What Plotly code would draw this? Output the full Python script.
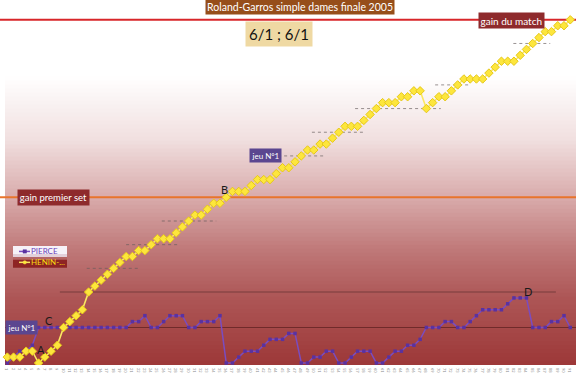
import plotly.graph_objects as go

# ---------------- data ----------------
points = list(range(1, 92))
tick_labels = [str(i) for i in points]

henin = [1, 1, 1, 2, 2, 0, 1, 2, 3, 6,
         7, 8, 9, 12, 13, 14, 15, 16, 17, 18,
         18, 19, 19, 20, 21, 21, 21, 22, 23, 24,
         25, 25, 26, 27, 27, 28, 29, 29, 29, 30,
         31, 31, 31, 32, 33, 33, 34, 35, 36, 36,
         37, 37, 38, 39, 40, 40, 40, 41, 42, 43,
         44, 44, 44, 45, 45, 46, 46, 43, 44, 45,
         45, 46, 47, 48, 48, 48, 48, 49, 50, 51,
         51, 51, 52, 53, 54, 55, 56, 56, 57, 57,
         58]

pierce = [0, 1, 2, 2, 3, 6, 6, 6, 6, 6,
          6, 6, 6, 6, 6, 6, 6, 6, 6, 6,
          7, 7, 8, 6, 6, 7, 8, 8, 8, 6,
          6, 7, 7, 7, 8, 0, 0, 1, 2, 2,
          2, 3, 4, 4, 4, 5, 5, 0, 0, 1,
          1, 2, 2, 0, 0, 1, 2, 2, 2, 0,
          0, 1, 2, 2, 3, 3, 4, 6, 6, 6,
          7, 7, 6, 6, 7, 8, 9, 9, 9, 9,
          10, 11, 11, 11, 6, 6, 6, 7, 7, 8,
          6]

series_names = ["PIERCE", "HENIN-..."]

match_level = 58
set_level = 28
pierce_game1_level = 6
henin_game_level = 12
game_levels = [16, 20, 24, 35, 39, 43, 47, 54]
game_starts = [13.7, 20.0, 25.7, 44.3, 49.7, 56.6, 69.4, 81.9]
game_ends = [22.2, 28.6, 34.4, 51.5, 58.2, 70.3, 75.1, 87.8]

# ---------------- geometry helpers ----------------
W, H = 576, 373
PLOT_H = 368  # plot area height in px (bottom margin holds tick labels)
X_RANGE = [1 - 7.3 / 6.255, 1 + (576 - 7.3) / 6.255]
Y_RANGE = [-(PLOT_H - 366) / 5.966, 366 / 5.966]


def px(x):
    return x / W


def py(y):
    return (PLOT_H - y) / PLOT_H


FONT = "Lato, 'Open Sans', sans-serif"
PURPLE_LINE = "#7a4cc0"
PURPLE_MK = "#5a32a0"
YEL_LINE = "#fbe862"
YEL_MK = "#fde63c"
YEL_EDGE = "#e6c81a"

fig = go.Figure()

# gradient background
stops = [(77, (255, 255, 255)), (140, (241, 224, 224)), (200, (216, 170, 170)),
         (250, (192, 122, 122)), (300, (173, 86, 86)), (368, (157, 56, 56))]
shapes = []
n = 72
y_top, y_bot = 77, 368
for i in range(n):
    y0 = y_top + (y_bot - y_top) * i / n
    y1 = y_top + (y_bot - y_top) * (i + 1) / n
    ym = (y0 + y1) / 2
    for j in range(len(stops) - 1):
        if stops[j][0] <= ym <= stops[j + 1][0]:
            t = (ym - stops[j][0]) / (stops[j + 1][0] - stops[j][0])
            c = [round(stops[j][1][k] + t * (stops[j + 1][1][k] - stops[j][1][k])) for k in range(3)]
            break
    shapes.append(dict(type="rect", xref="paper", yref="paper", x0=px(5), x1=1,
                       y0=py(min(y1 + 1.5, y_bot)), y1=py(y0), line=dict(width=0),
                       fillcolor=f"rgb({c[0]},{c[1]},{c[2]})", layer="below"))

# reference lines
shapes.append(dict(type="line", xref="paper", yref="y", x0=px(5), x1=1,
                   y0=pierce_game1_level, y1=pierce_game1_level,
                   line=dict(color="rgba(90,30,30,0.7)", width=1), layer="below"))
shapes.append(dict(type="line", xref="x", yref="y", x0=9.4, x1=88.7,
                   y0=henin_game_level, y1=henin_game_level,
                   line=dict(color="rgba(80,40,40,0.6)", width=1), layer="below"))
for lv, s, e in zip(game_levels, game_starts, game_ends):
    shapes.append(dict(type="line", xref="x", yref="y", x0=s, x1=e, y0=lv, y1=lv,
                       line=dict(color="rgba(100,90,90,0.65)", width=1, dash="dot"),
                       layer="below"))
shapes.append(dict(type="line", xref="paper", yref="y", x0=0, x1=1,
                   y0=set_level, y1=set_level,
                   line=dict(color="#e8742c", width=2), layer="below"))
shapes.append(dict(type="line", xref="paper", yref="y", x0=0, x1=1,
                   y0=match_level, y1=match_level,
                   line=dict(color="#d8262a", width=2), layer="below"))

# legend box (gradient white -> dark red), drawn manually
leg_bands = [(248, 256.5, "#f6f2f8"), (256, 259.5, "#e2d0da"), (259, 262.5, "#b46464"),
             (262, 270, "#8e2424")]
for y0, y1, col in leg_bands:
    shapes.append(dict(type="rect", xref="paper", yref="paper", x0=px(13), x1=px(67),
                       y0=py(y1), y1=py(y0), line=dict(width=0), fillcolor=col,
                       layer="above"))
# legend symbols
for row_y, lc, mc, sym in [(253.5, PURPLE_LINE, PURPLE_MK, "rect"), (264.5, YEL_LINE, YEL_MK, "circle")]:
    shapes.append(dict(type="line", xref="paper", yref="paper", x0=px(19), x1=px(30),
                       y0=py(row_y), y1=py(row_y), line=dict(color=lc, width=1.5),
                       layer="above"))
    shapes.append(dict(type=sym, xref="paper", yref="paper", x0=px(23), x1=px(26.5),
                       y0=py(row_y + 1.7), y1=py(row_y - 1.7),
                       line=dict(color=mc, width=0.5), fillcolor=mc, layer="above"))

# traces
fig.add_trace(go.Scatter(
    x=points, y=pierce, mode="lines+markers", name=series_names[0], showlegend=False,
    line=dict(color=PURPLE_LINE, width=1.5),
    marker=dict(symbol="square", size=3.5, color=PURPLE_MK),
))
fig.add_trace(go.Scatter(
    x=points, y=henin, mode="lines+markers", name=series_names[1], showlegend=False,
    line=dict(color=YEL_LINE, width=1.6),
    marker=dict(symbol="diamond", size=6.5, color=YEL_MK,
                line=dict(color=YEL_EDGE, width=1)),
))

# annotations
ann = []


def label(text, x, y, size, color="white", bg=None, pad=1, xanchor="center"):
    ann.append(dict(text=text, xref="paper", yref="paper", x=px(x), y=py(y),
                    xanchor=xanchor, yanchor="middle", showarrow=False,
                    font=dict(size=size, color=color, family=FONT),
                    bgcolor=bg, borderpad=pad))


label("Roland-Garros simple dames finale 2005", 300, 7.5, 10.5, bg="#964e1a", pad=1)
label("6/1 ; 6/1", 279, 34, 15, color="#111111", bg="#efd9a3", pad=3)
label("gain du match", 511, 20.5, 10, bg="#8e2a2c", pad=1.5)
label("gain premier set", 53, 199.5, 9.5, bg="#8e2a2c", pad=1.8)
label("jeu N°1", 21.5, 330.5, 8, bg="#5b4690", pad=1.5)
label("jeu N°1", 265, 157, 8, bg="#5b4690", pad=1.5)
label("A", 40.7, 352.7, 11, color="#1a1a1a")
label("B", 224.3, 190.7, 11, color="#1a1a1a")
label("C", 49.3, 323.3, 11, color="#1a1a1a")
label("D", 528.3, 294, 11, color="#1a1a1a")
label(series_names[0], 29.5, 253.5, 8, color="#6b3fb8", xanchor="left", pad=0)
label(series_names[1], 29.5, 264.5, 8, color="#f7dc10", xanchor="left", pad=0)

fig.update_layout(
    width=W, height=H,
    margin=dict(l=0, r=0, t=0, b=H - PLOT_H),
    paper_bgcolor="white", plot_bgcolor="white",
    shapes=shapes, annotations=ann,
    font=dict(family=FONT),
    showlegend=False,
    xaxis=dict(range=X_RANGE, tickmode="array", tickvals=points, ticktext=tick_labels,
               tickfont=dict(size=4, color="#8a8a8a"), showgrid=False, zeroline=False,
               showline=False, ticks="", ticklabelstandoff=0),
    yaxis=dict(range=Y_RANGE, visible=False, showgrid=False, zeroline=False),
)

fig.write_html("out.html")
